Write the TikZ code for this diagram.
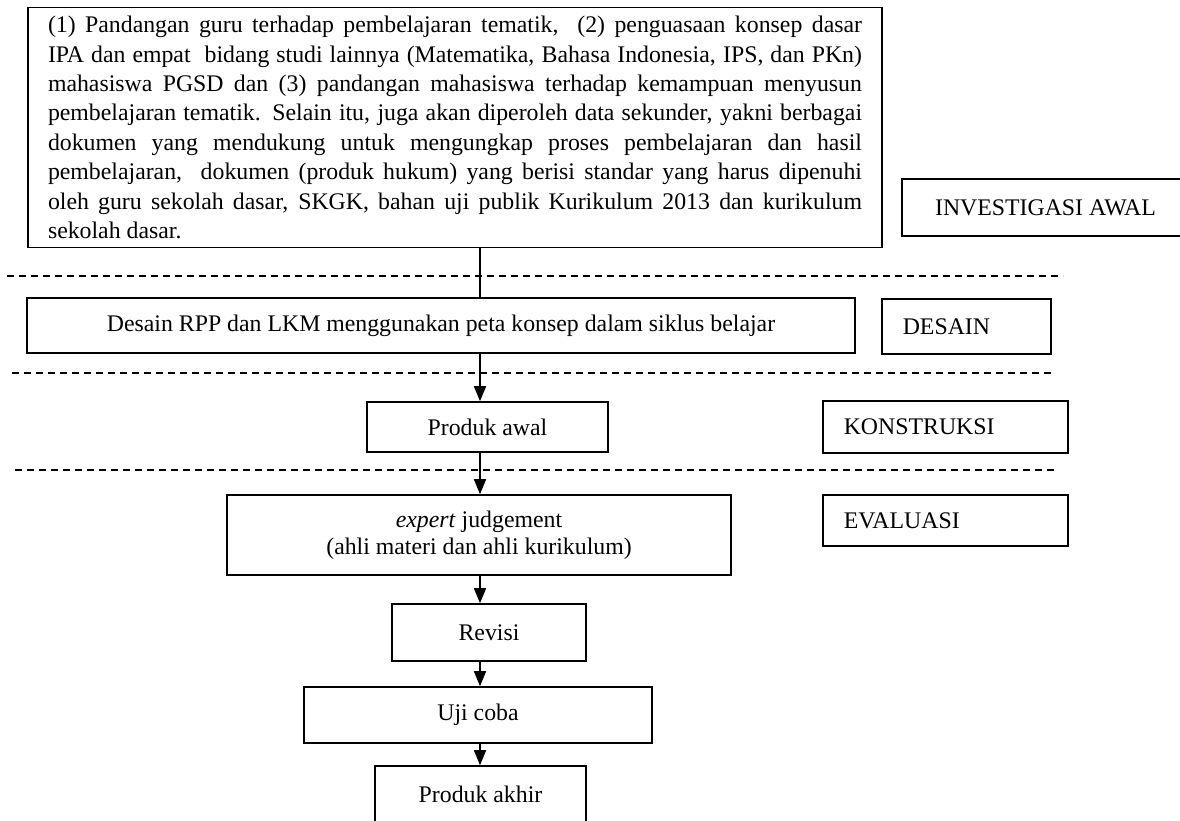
\documentclass[tikz,border=0pt]{standalone}
\usepackage{fontspec}
\setmainfont{Liberation Serif}
\usetikzlibrary{arrows.meta}

\begin{document}
\begin{tikzpicture}[x=1pt, y=-1pt, line width=1.6pt,
  font=\fontsize{23.8}{27.4}\selectfont,
  box/.style={draw, inner sep=0pt, align=center},
  tag/.style={draw, anchor=north west, inner xsep=21pt, inner ysep=0pt, align=left},
  batas/.style={dash pattern=on 7pt off 5pt, line width=1.4pt},
  >={Triangle[width=12pt,length=15pt]}]

\clip (0,0) rectangle (1180,821);

\node[box, minimum width=854pt, minimum height=240pt, text width=814pt, align=justify,
  font=\fontsize{23.8}{29.4}\selectfont] (data) at (455,127.5) {\hyphenpenalty=10000
(1) Pandangan guru terhadap pembelajaran tematik,\ \ (2) penguasaan konsep dasar\linebreak
IPA dan empat\ \ bidang studi lainnya (Matematika, Bahasa Indonesia, IPS, dan PKn)\linebreak
mahasiswa PGSD dan (3) pandangan mahasiswa terhadap kemampuan menyusun\linebreak
pembelajaran tematik. Selain itu, juga akan diperoleh data sekunder, yakni berbagai\linebreak
dokumen yang mendukung untuk mengungkap proses pembelajaran dan hasil\linebreak
pembelajaran,\ \ dokumen (produk hukum) yang berisi standar yang harus dipenuhi\linebreak
oleh guru sekolah dasar, SKGK, bahan uji publik Kurikulum 2013 dan kurikulum\linebreak
sekolah dasar.};
\node[box, minimum width=828pt, minimum height=55pt] (rancang) at (441,325.5) {Desain RPP dan LKM menggunakan peta konsep dalam siklus belajar};
\node[box, minimum width=241pt, minimum height=50pt] (awal) at (487.5,427) {Produk awal};
\node[box, minimum width=504pt, minimum height=80pt] (pakar) at (479,535) {\textit{expert} judgement\\(ahli materi dan ahli kurikulum)};
\node[box, minimum width=194pt, minimum height=57pt] (revisi) at (489,632.5) {Revisi};
\node[box, minimum width=348pt, minimum height=56pt] (uji) at (478,715) {Uji coba};
\node[box, minimum width=211pt, minimum height=57pt] (akhir) at (480.5,794.5) {Produk akhir};

\node[box, minimum width=287pt, minimum height=57pt] (t1) at (1045.5,207.5) {INVESTIGASI AWAL};
\node[tag, text width=127pt, minimum height=55pt] (t2) at (881,298) {DESAIN};
\node[tag, text width=203pt, minimum height=52pt] (t3) at (822,400) {KONSTRUKSI};
\node[tag, text width=203pt, minimum height=51pt] (t4) at (822,494) {EVALUASI};

\draw[batas] (7,276) -- (1063,276);
\draw[batas] (12,373) -- (1055,373);
\draw[batas] (15,470) -- (1057,470);

\coordinate (sumbu) at (480,0);
\draw (data.south -| sumbu) edge (rancang.north -| sumbu);
\draw (rancang.south -| sumbu) edge[->] (awal.north -| sumbu);
\draw (awal.south -| sumbu) edge[->] (pakar.north -| sumbu);
\draw (pakar.south -| sumbu) edge[->] (revisi.north -| sumbu);
\draw (revisi.south -| sumbu) edge[->] (uji.north -| sumbu);
\draw (uji.south -| sumbu) edge[->] (akhir.north -| sumbu);

\end{tikzpicture}
\end{document}
